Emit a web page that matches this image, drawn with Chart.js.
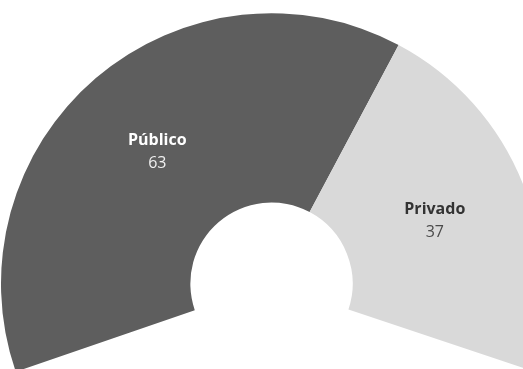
<!DOCTYPE html>
<html>
<head>
<meta charset="utf-8">
<script src="https://cdn.jsdelivr.net/npm/chart.js@4"></script>
<style>
  html, body { margin: 0; padding: 0; background: #fff; overflow: hidden; width: 523px; height: 369px; }
  #wrap { position: absolute; left: 1px; top: 12px; width: 541px; height: 361px; }
</style>
</head>
<body>
<div id="wrap"><canvas id="chart" width="541" height="361"></canvas></div>
<script>
const categories = ['Público', 'Privado'];
const values = [63, 37];
const sliceColors = ['#5e5e5e', '#d9d9d9'];
const labelColors = ['#ffffff', '#333333'];
const valueColors = ['#f0f0f0', '#4a4a4a'];

const sliceLabels = {
	id: 'sliceLabels',
	afterDatasetsDraw(chart) {
		const ctx = chart.ctx;
		const arcs = chart.getDatasetMeta(0).data;
		ctx.save();
		ctx.textAlign = 'center';
		ctx.textBaseline = 'alphabetic';
		arcs.forEach((arc, i) => {
			const pos = arc.tooltipPosition();
			ctx.fillStyle = labelColors[i];
			ctx.font = 'bold 16px "Open Sans"';
			ctx.fillText(categories[i], pos.x, pos.y - 5);
			ctx.fillStyle = valueColors[i];
			ctx.font = '16px "Open Sans"';
			ctx.fillText(String(values[i]), pos.x, pos.y + 18);
		});
		ctx.restore();
	}
};

new Chart(document.getElementById('chart'), {
	type: 'doughnut',
	data: {
		labels: categories,
		datasets: [{
			data: values,
			backgroundColor: sliceColors,
			borderWidth: 0
		}]
	},
	options: {
		responsive: false,
		animation: false,
		circumference: 217.5,
		rotation: -109,
		cutout: '30%',
		layout: { padding: 0 },
		plugins: {
			legend: { display: false },
			tooltip: { enabled: false }
		}
	},
	plugins: [sliceLabels]
});
</script>
</body>
</html>
